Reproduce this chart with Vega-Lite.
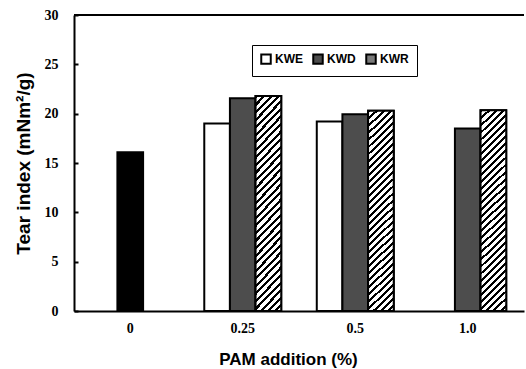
{
  "$schema": "https://vega.github.io/schema/vega-lite/v6.json",
  "autosize": {"type": "none"},
  "width": 450,
  "height": 296,
  "padding": {"left": 74, "top": 15, "right": 2, "bottom": 58},
  "background": "white",
  "config": {
    "view": {"stroke": null},
    "axis": {
      "domainColor": "black",
      "domainWidth": 2,
      "tickColor": "black",
      "tickWidth": 2,
      "labelColor": "black",
      "labelFont": "Liberation Serif",
      "labelFontWeight": "bold",
      "labelFontSize": 14,
      "titleColor": "black",
      "titleFont": "Liberation Sans",
      "titleFontWeight": "bold",
      "grid": false
    }
  },
  "data": {
    "values": [
      {"pam": "0", "series": "Control", "tear": 16.1},
      {"pam": "0.25", "series": "KWE", "tear": 19.0},
      {"pam": "0.25", "series": "KWD", "tear": 21.55},
      {"pam": "0.25", "series": "KWR", "tear": 21.8},
      {"pam": "0.5", "series": "KWE", "tear": 19.2},
      {"pam": "0.5", "series": "KWD", "tear": 19.93},
      {"pam": "0.5", "series": "KWR", "tear": 20.3},
      {"pam": "1.0", "series": "KWD", "tear": 18.5},
      {"pam": "1.0", "series": "KWR", "tear": 20.35}
    ]
  },
  "encoding": {
    "y": {
      "field": "tear", "type": "quantitative", "title": "Tear index (mNm²/g)",
      "scale": {"domain": [0, 30], "nice": false},
      "axis": {"values": [0, 5, 10, 15, 20, 25, 30], "tickSize": -4, "labelPadding": 20, "titleFontSize": 19, "titlePadding": 11}
    }
  },
  "layer": [
    {
      "transform": [{"filter": "datum.series === 'Control'"}],
      "mark": {"type": "bar", "fill": "black", "stroke": "black", "strokeWidth": 2, "width": {"band": 0.334}},
      "encoding": {
        "x": {
          "field": "pam", "type": "ordinal", "sort": ["0", "0.25", "0.5", "1.0"],
          "scale": {"domain": ["0", "0.25", "0.5", "1.0"], "paddingInner": 0.316, "paddingOuter": 0.158},
          "axis": {"title": "PAM addition (%)", "labelAngle": 0, "ticks": false, "labelPadding": 10, "titleFontSize": 17, "titlePadding": 16, "titleX": 214}
        }
      }
    },
    {
      "transform": [{"filter": "datum.series !== 'Control'"}],
      "mark": {"type": "bar", "stroke": "black", "strokeWidth": 2},
      "encoding": {
        "x": {"field": "pam", "type": "ordinal", "sort": ["0", "0.25", "0.5", "1.0"]},
        "xOffset": {"field": "series", "type": "nominal", "sort": ["KWE", "KWD", "KWR"], "scale": {"domain": ["KWE", "KWD", "KWR"], "paddingInner": 0, "paddingOuter": 0}},
        "fill": {
          "field": "series", "type": "nominal",
          "scale": {"domain": ["KWE", "KWD", "KWR"], "range": ["#ffffff", "#4d4d4d", "#7a7a7a"]},
          "legend": {
            "orient": "none", "legendX": 178, "legendY": 30, "direction": "horizontal", "title": null,
            "strokeColor": "black", "fillColor": "white", "padding": 8,
            "symbolType": "square", "symbolSize": 90, "symbolStrokeColor": "black", "symbolStrokeWidth": 2,
            "labelFont": "Liberation Sans", "labelFontWeight": "bold", "labelFontSize": 12, "labelColor": "black",
            "labelOffset": 3, "columnPadding": 6
          }
        }
      }
    },
    {
      "transform": [{"filter": "datum.series === 'KWR'"}],
      "mark": {
        "type": "bar", "stroke": "black", "strokeWidth": 2,
        "fill": {
          "gradient": "linear", "x1": 0, "y1": 0, "x2": 0.1373, "y2": 1.107,
          "stops": [
            {"offset": 0, "color": "#000"}, {"offset": 0.013, "color": "#000"}, {"offset": 0.013, "color": "#fff"}, {"offset": 0.03125, "color": "#fff"},
            {"offset": 0.03125, "color": "#000"}, {"offset": 0.04425, "color": "#000"}, {"offset": 0.04425, "color": "#fff"}, {"offset": 0.0625, "color": "#fff"},
            {"offset": 0.0625, "color": "#000"}, {"offset": 0.0755, "color": "#000"}, {"offset": 0.0755, "color": "#fff"}, {"offset": 0.09375, "color": "#fff"},
            {"offset": 0.09375, "color": "#000"}, {"offset": 0.10675, "color": "#000"}, {"offset": 0.10675, "color": "#fff"}, {"offset": 0.125, "color": "#fff"},
            {"offset": 0.125, "color": "#000"}, {"offset": 0.138, "color": "#000"}, {"offset": 0.138, "color": "#fff"}, {"offset": 0.15625, "color": "#fff"},
            {"offset": 0.15625, "color": "#000"}, {"offset": 0.16925, "color": "#000"}, {"offset": 0.16925, "color": "#fff"}, {"offset": 0.1875, "color": "#fff"},
            {"offset": 0.1875, "color": "#000"}, {"offset": 0.2005, "color": "#000"}, {"offset": 0.2005, "color": "#fff"}, {"offset": 0.21875, "color": "#fff"},
            {"offset": 0.21875, "color": "#000"}, {"offset": 0.23175, "color": "#000"}, {"offset": 0.23175, "color": "#fff"}, {"offset": 0.25, "color": "#fff"},
            {"offset": 0.25, "color": "#000"}, {"offset": 0.263, "color": "#000"}, {"offset": 0.263, "color": "#fff"}, {"offset": 0.28125, "color": "#fff"},
            {"offset": 0.28125, "color": "#000"}, {"offset": 0.29425, "color": "#000"}, {"offset": 0.29425, "color": "#fff"}, {"offset": 0.3125, "color": "#fff"},
            {"offset": 0.3125, "color": "#000"}, {"offset": 0.3255, "color": "#000"}, {"offset": 0.3255, "color": "#fff"}, {"offset": 0.34375, "color": "#fff"},
            {"offset": 0.34375, "color": "#000"}, {"offset": 0.35675, "color": "#000"}, {"offset": 0.35675, "color": "#fff"}, {"offset": 0.375, "color": "#fff"},
            {"offset": 0.375, "color": "#000"}, {"offset": 0.388, "color": "#000"}, {"offset": 0.388, "color": "#fff"}, {"offset": 0.40625, "color": "#fff"},
            {"offset": 0.40625, "color": "#000"}, {"offset": 0.41925, "color": "#000"}, {"offset": 0.41925, "color": "#fff"}, {"offset": 0.4375, "color": "#fff"},
            {"offset": 0.4375, "color": "#000"}, {"offset": 0.4505, "color": "#000"}, {"offset": 0.4505, "color": "#fff"}, {"offset": 0.46875, "color": "#fff"},
            {"offset": 0.46875, "color": "#000"}, {"offset": 0.48175, "color": "#000"}, {"offset": 0.48175, "color": "#fff"}, {"offset": 0.5, "color": "#fff"},
            {"offset": 0.5, "color": "#000"}, {"offset": 0.513, "color": "#000"}, {"offset": 0.513, "color": "#fff"}, {"offset": 0.53125, "color": "#fff"},
            {"offset": 0.53125, "color": "#000"}, {"offset": 0.54425, "color": "#000"}, {"offset": 0.54425, "color": "#fff"}, {"offset": 0.5625, "color": "#fff"},
            {"offset": 0.5625, "color": "#000"}, {"offset": 0.5755, "color": "#000"}, {"offset": 0.5755, "color": "#fff"}, {"offset": 0.59375, "color": "#fff"},
            {"offset": 0.59375, "color": "#000"}, {"offset": 0.60675, "color": "#000"}, {"offset": 0.60675, "color": "#fff"}, {"offset": 0.625, "color": "#fff"},
            {"offset": 0.625, "color": "#000"}, {"offset": 0.638, "color": "#000"}, {"offset": 0.638, "color": "#fff"}, {"offset": 0.65625, "color": "#fff"},
            {"offset": 0.65625, "color": "#000"}, {"offset": 0.66925, "color": "#000"}, {"offset": 0.66925, "color": "#fff"}, {"offset": 0.6875, "color": "#fff"},
            {"offset": 0.6875, "color": "#000"}, {"offset": 0.7005, "color": "#000"}, {"offset": 0.7005, "color": "#fff"}, {"offset": 0.71875, "color": "#fff"},
            {"offset": 0.71875, "color": "#000"}, {"offset": 0.73175, "color": "#000"}, {"offset": 0.73175, "color": "#fff"}, {"offset": 0.75, "color": "#fff"},
            {"offset": 0.75, "color": "#000"}, {"offset": 0.763, "color": "#000"}, {"offset": 0.763, "color": "#fff"}, {"offset": 0.78125, "color": "#fff"},
            {"offset": 0.78125, "color": "#000"}, {"offset": 0.79425, "color": "#000"}, {"offset": 0.79425, "color": "#fff"}, {"offset": 0.8125, "color": "#fff"},
            {"offset": 0.8125, "color": "#000"}, {"offset": 0.8255, "color": "#000"}, {"offset": 0.8255, "color": "#fff"}, {"offset": 0.84375, "color": "#fff"},
            {"offset": 0.84375, "color": "#000"}, {"offset": 0.85675, "color": "#000"}, {"offset": 0.85675, "color": "#fff"}, {"offset": 0.875, "color": "#fff"},
            {"offset": 0.875, "color": "#000"}, {"offset": 0.888, "color": "#000"}, {"offset": 0.888, "color": "#fff"}, {"offset": 0.90625, "color": "#fff"},
            {"offset": 0.90625, "color": "#000"}, {"offset": 0.91925, "color": "#000"}, {"offset": 0.91925, "color": "#fff"}, {"offset": 0.9375, "color": "#fff"},
            {"offset": 0.9375, "color": "#000"}, {"offset": 0.9505, "color": "#000"}, {"offset": 0.9505, "color": "#fff"}, {"offset": 0.96875, "color": "#fff"},
            {"offset": 0.96875, "color": "#000"}, {"offset": 0.98175, "color": "#000"}, {"offset": 0.98175, "color": "#fff"}, {"offset": 1, "color": "#fff"}
          ]
        }
      },
      "encoding": {
        "x": {"field": "pam", "type": "ordinal", "sort": ["0", "0.25", "0.5", "1.0"]},
        "xOffset": {"field": "series", "type": "nominal", "sort": ["KWE", "KWD", "KWR"]}
      }
    },
    {
      "mark": {"type": "rule", "stroke": "black", "strokeWidth": 2},
      "encoding": {"y": {"datum": 30, "type": "quantitative", "title": "Tear index (mNm²/g)"}}
    }
  ]
}
